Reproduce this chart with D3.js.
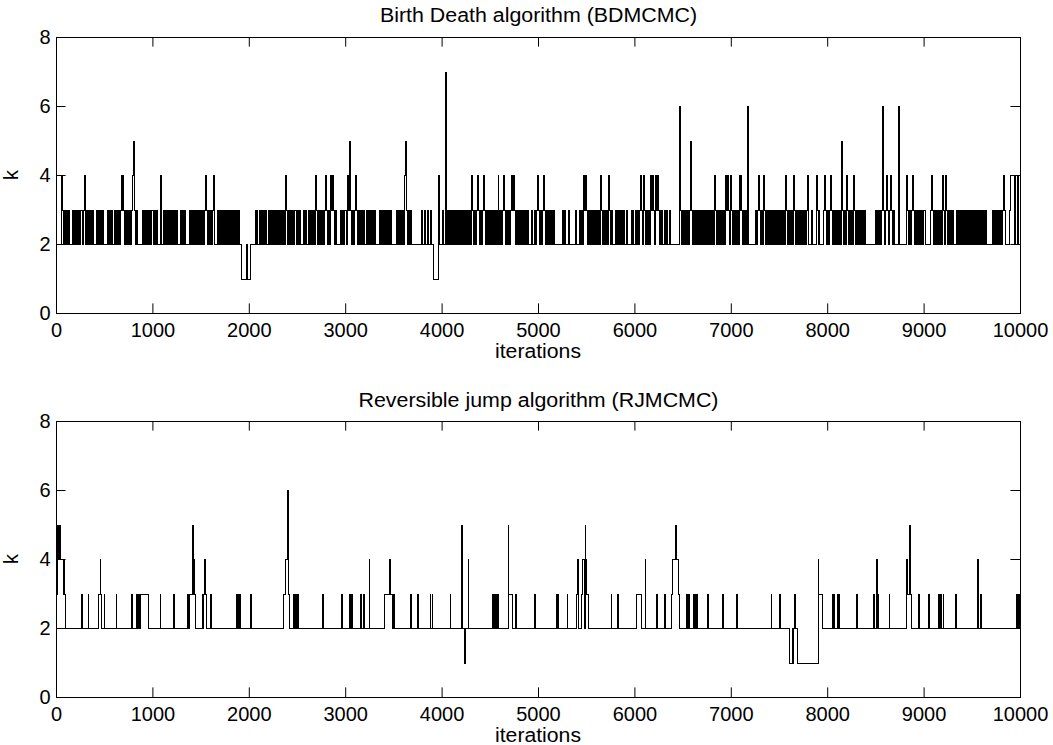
<!DOCTYPE html>
<html>
<head>
<meta charset="utf-8">
<script src="https://cdn.jsdelivr.net/npm/d3@7"></script>
<style>
  body { margin: 0; background: #fff; }
  text { font-family: "Liberation Sans", Arial, Helvetica, sans-serif; }
</style>
</head>
<body>
<svg id="fig"></svg>
<script>
// k per block of 10 iterations, one string per 1000 iterations (spaces only for reading)
var bdTrace = [
  "22222 4 32323232 222 323 2 323233234232323232 222 32323232 222 32323223232323 4 3 4 3232323 2 345 3232 2222 32323232323",
  "323232 22422 3232323232323232 22 32323 2222 32323232323232323 4 3232323 4 222 32323232323232323232323 22 11111 2 11",
  "1 22222 32322323232322323 2 32323232323232 4 323232323 32323 222 323 22 32323232 4 323232323 4 3232 4 3 4 3232 2222 32323",
  "32 4 3 5 32323 4 32323232322323232323 2222 32323232323232 2222 3232323 24 5 323232 222222222 2 3 22 32232232 2 11111 4 222",
  "3 222 7 2 3 232323232323232323232323 4 32323 4 32323 4 32323232323232 4 32323 4 3232323 4 3 4 323232323232323 222322 323 4",
  "32323 4 323232323232 2222222 323 222 32 22222 3 2222 3232 4 3 4 32323232323232 4 32323232 4 3232 22 323232323 22 3 2222 3232",
  "232323 4 32 4 323232 4 3 4 32 4 3 4 32323223232 2322 2222222 6 32323232323 5 323232323232323232323232 4 3232323232 4 3 4 32 4",
  "32323232 4 3 4 323232 6 2222222 323 4 3232 4 3232323232323232323232 4 32323 2 32 4 3232323232323 4 222 3 2222 4 3232 222 3 4 32",
  "323 4 3232323232 5 32323 4 323232 4 323232323232 2222222222 3232323 6 323 4 323 4 3232 222 6 22222222 4 32323 4 32323232323",
  "32 22222 3 4 3232323232 4 32 4 323 2 3232 222 32323232323 2 3232323232323232323 222222 32323232323 4 3 22222 3 4444 2 44 2 44"
];

// RJMCMC: [from, to, k] excursions away from k = 2 (later ones overwrite earlier)
var rjEvents = [
  [0,14,3],[14,24,5],[24,34,4],[34,40,5],[40,72,4],[72,80,3],[80,86,4],[86,96,3],
  [258,266,3],[328,336,3],[440,452,3],[452,460,4],[460,466,3],[494,502,3],
  [618,626,3],[776,784,3],[834,840,3],[848,854,3],[862,868,3],[872,950,3],
  [1075,1083,3],[1213,1221,3],[1358,1366,3],[1384,1410,3],[1410,1418,5],[1418,1424,3],[1424,1432,4],[1432,1440,3],
  [1510,1520,3],[1530,1538,3],[1538,1546,4],[1546,1556,3],[1600,1608,3],
  [1872,1880,3],[1884,1890,3],[1896,1904,3],[2015,2023,3],
  [2350,2380,3],[2380,2396,4],[2396,2404,6],[2404,2414,3],
  [2460,2468,3],[2474,2480,3],[2486,2494,3],[2498,2506,3],
  [2759,2767,3],[2956,2964,3],[3038,3046,3],[3052,3060,3],[3064,3072,3],
  [3158,3166,3],[3182,3190,3],[3243,3251,4],
  [3400,3450,3],[3450,3460,4],[3460,3490,3],[3497,3505,3],
  [3675,3683,3],[3745,3753,3],[3876,3884,3],[3896,3904,3],[4083,4091,3],
  [4200,4210,5],[4236,4244,1],[4270,4278,4],
  [4522,4530,3],[4540,4548,3],[4556,4564,3],[4572,4580,3],
  [4684,4692,5],[4692,4734,3],[4760,4768,3],[4962,4970,3],
  [5190,5198,3],[5204,5212,3],[5297,5305,3],
  [5396,5404,3],[5404,5410,4],[5412,5420,3],
  [5450,5460,3],[5460,5480,4],[5484,5492,5],[5492,5500,4],[5500,5515,3],
  [5754,5762,3],[5823,5831,3],
  [6015,6068,3],[6106,6114,4],[6227,6235,3],[6307,6315,3],
  [6380,6394,3],[6394,6424,4],[6424,6432,5],[6432,6448,4],[6448,6465,3],
  [6540,6548,3],[6556,6564,3],[6603,6611,3],[6620,6628,3],[6640,6648,3],
  [6753,6761,3],[6912,6920,3],[7058,7066,3],[7414,7422,3],[7500,7508,3],
  [7604,7630,1],[7640,7650,1],[7660,7668,3],[7690,7900,1],
  [7900,7906,4],[7906,7950,3],
  [8045,8053,3],[8062,8070,3],[8098,8106,3],[8110,8118,3],[8296,8304,3],
  [8476,8484,3],[8508,8516,4],[8520,8528,3],[8638,8646,3],
  [8822,8830,4],[8830,8852,3],[8852,8862,5],[8862,8870,3],
  [8941,8949,3],[9045,9053,3],[9150,9158,3],[9170,9178,3],[9198,9206,3],
  [9330,9338,3],[9556,9564,4],[9585,9593,3],
  [9960,9968,3],[9980,9988,3]
];

var xTicks = [0, 1000, 2000, 3000, 4000, 5000, 6000, 7000, 8000, 9000, 10000];
var yTicks = [0, 2, 4, 6, 8];
var titles = ["Birth Death algorithm (BDMCMC)", "Reversible jump algorithm (RJMCMC)"];
var xLabel = "iterations";
var yLabel = "k";

var nIter = 10000, blockSize = 10, rjBase = 2;

var width = 1053, height = 745;
var left = 56, right = 1020;
var fontSize = 20;

// build BD step points
var bdPoints = [];
bdTrace.forEach(function (s, d) {
    s.replace(/\s/g, "").split("").forEach(function (ch, c) {
        bdPoints.push([d * 1000 + c * blockSize, +ch]);
    });
});
bdPoints.push([nIter, bdPoints[bdPoints.length - 1][1]]);

// build RJ step points
var rjK = new Array(nIter).fill(rjBase);
rjEvents.forEach(function (e) {
    for (var i = e[0]; i < e[1] && i < nIter; i++) rjK[i] = e[2];
});
var rjPoints = [];
rjK.forEach(function (k, i) {
    if (i === 0 || k !== rjK[i - 1]) rjPoints.push([i, k]);
});
rjPoints.push([nIter, rjK[nIter - 1]]);

var panels = [
    {title: titles[0], top: 37, bottom: 313, points: bdPoints, titleY: 21.5, labelY: 358, titleW: 317},
    {title: titles[1], top: 421, bottom: 697, points: rjPoints, titleY: 406.5, labelY: 741.5, titleW: 360}
];

var svg = d3.select("#fig")
    .attr("width", width)
    .attr("height", height);

svg.append("rect").attr("width", width).attr("height", height).attr("fill", "#fff");

var xScale = d3.scaleLinear().domain([0, nIter]).range([left, right]);

panels.forEach(function (p) {
    var yScale = d3.scaleLinear().domain([0, 8]).range([p.bottom, p.top]);
    var g = svg.append("g");

    var line = d3.line()
        .x(d => xScale(d[0]) + 0.5)
        .y(d => yScale(d[1]) + 0.5)
        .curve(d3.curveStepAfter);

    g.append("path")
        .datum(p.points)
        .attr("d", line)
        .attr("fill", "none")
        .attr("stroke", "#000")
        .attr("stroke-width", 1)
        .attr("shape-rendering", "crispEdges");

    // frame
    g.append("rect")
        .attr("x", left + 0.5)
        .attr("y", p.top + 0.5)
        .attr("width", right - left)
        .attr("height", p.bottom - p.top)
        .attr("fill", "none")
        .attr("stroke", "#000")
        .attr("stroke-width", 1);

    //axes, ticks pointing inward
    g.append("g")
        .attr("transform", "translate(0," + p.bottom + ")")
        .call(d3.axisBottom(xScale).tickValues(xTicks).tickSizeInner(-9.6).tickSizeOuter(0)
            .tickPadding(9.5).tickFormat(d3.format("d")))
        .attr("font-size", fontSize)
        .attr("font-family", null)
        .call(a => a.select(".domain").remove());

    g.append("g")
        .attr("transform", "translate(0," + p.top + ")")
        .call(d3.axisTop(xScale).tickValues(xTicks).tickSizeInner(-9.6).tickSizeOuter(0).tickFormat(""))
        .call(a => a.select(".domain").remove());

    g.append("g")
        .attr("transform", "translate(" + left + ",0)")
        .call(d3.axisLeft(yScale).tickValues(yTicks).tickSizeInner(-9.6).tickSizeOuter(0)
            .tickPadding(5.5))
        .attr("font-size", fontSize)
        .attr("font-family", null)
        .call(a => a.select(".domain").remove());

    g.append("g")
        .attr("transform", "translate(" + right + ",0)")
        .call(d3.axisRight(yScale).tickValues(yTicks).tickSizeInner(-9.6).tickSizeOuter(0).tickFormat(""))
        .call(a => a.select(".domain").remove());

    g.selectAll(".tick line").attr("stroke", "#000");
    g.selectAll(".tick text").attr("fill", "#000");

    // labels
    g.append("text")
        .attr("x", 538.5)
        .attr("y", p.titleY)
        .attr("text-anchor", "middle")
        .attr("font-size", fontSize)
        .attr("textLength", p.titleW)
        .attr("lengthAdjust", "spacingAndGlyphs")
        .text(p.title);

    g.append("text")
        .attr("x", 538)
        .attr("y", p.labelY)
        .attr("text-anchor", "middle")
        .attr("font-size", fontSize)
        .attr("textLength", 86)
        .attr("lengthAdjust", "spacingAndGlyphs")
        .text(xLabel);

    g.append("text")
        .attr("transform", "translate(18," + ((p.top + p.bottom) / 2) + ") rotate(-90)")
        .attr("text-anchor", "middle")
        .attr("font-size", fontSize)
        .text(yLabel);
});
</script>
</body>
</html>
